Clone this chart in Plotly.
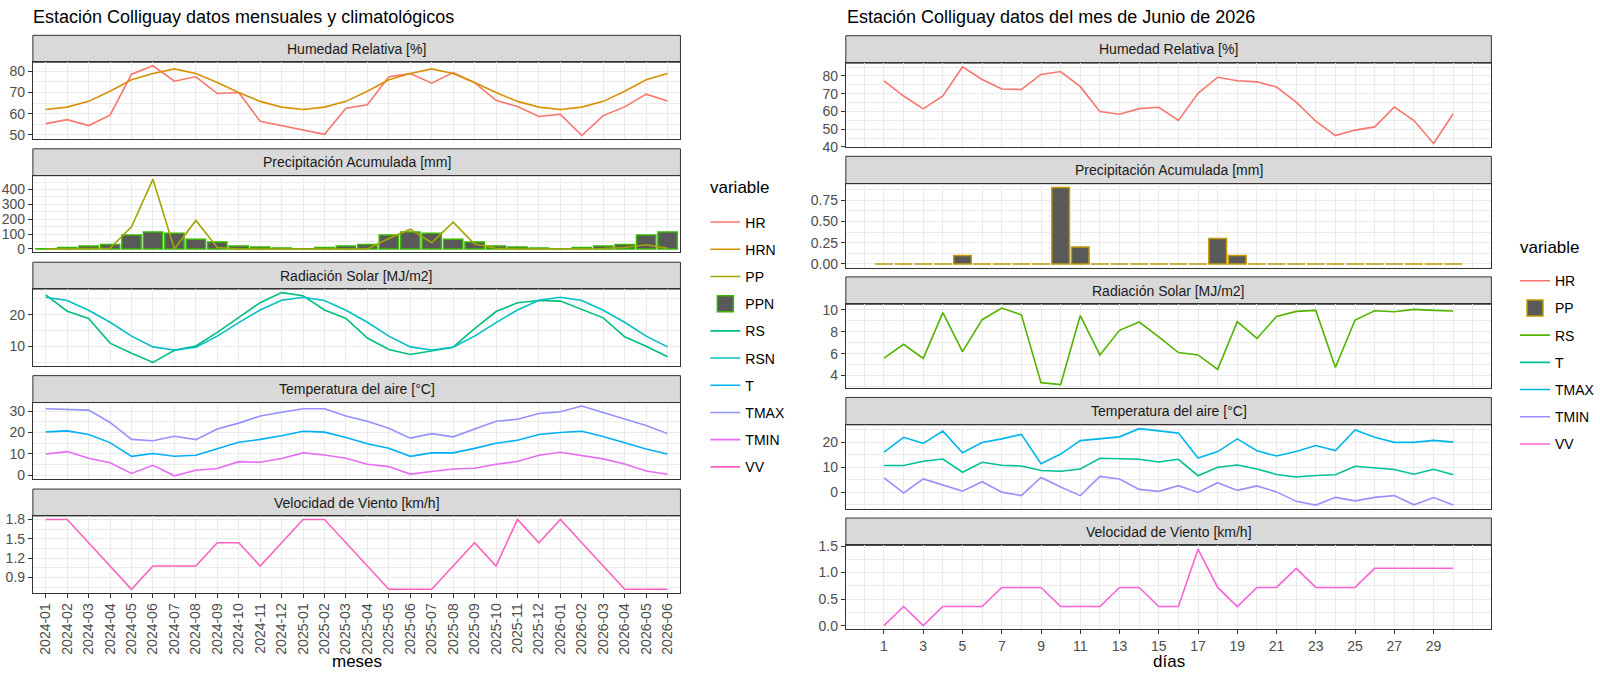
import plotly.graph_objects as go

W, H = 1600, 676

# ---- datos mensuales (panel izquierdo) ----
meses = ['2024-01', '2024-02', '2024-03', '2024-04', '2024-05', '2024-06', '2024-07', '2024-08',
         '2024-09', '2024-10', '2024-11', '2024-12', '2025-01', '2025-02', '2025-03', '2025-04',
         '2025-05', '2025-06', '2025-07', '2025-08', '2025-09', '2025-10', '2025-11', '2025-12',
         '2026-01', '2026-02', '2026-03', '2026-04', '2026-05', '2026-06']
hr_mensual = [55.3, 57.2, 54.4, 59.3, 78.6, 82.6, 75.3, 77.4, 69.5, 70.0, 56.4, 54.3, 52.3, 50.3, 62.6,
              64.2, 77.4, 78.9, 74.4, 79.4, 74.6, 66.3, 63.4, 58.7, 59.7, 49.7, 59.1, 63.2, 69.2, 66.0]
hrn_mensual = [62.0, 63.1, 65.8, 70.6, 76.0, 78.9, 81.1, 78.9, 74.7, 70.0, 65.8, 63.1, 62.0, 63.1, 65.8,
               70.6, 76.0, 78.9, 81.1, 78.9, 74.7, 70.0, 65.8, 63.1, 62.0, 63.1, 65.8, 70.6, 76.0, 78.9]
pp_mensual = [0, 0, 0, 5, 149, 470, 0, 192, 10, 0, 0, 0, 0, 0, 5,
              0, 70, 133, 42, 181, 33, 5, 0, 0, 0, 0, 3, 10, 28, 4]
ppn_mensual = [2, 9, 20, 30, 94, 114, 105, 66, 46, 20, 13, 7, 2, 9, 20,
               30, 94, 114, 105, 66, 46, 20, 13, 7, 2, 9, 20, 30, 94, 114]
rs_mensual = [26.3, 21.1, 18.8, 11.0, 7.8, 4.9, 8.7, 10.1, 14.4, 19.0, 23.8, 27.0, 26.0, 21.5, 18.8,
              12.6, 9.0, 7.4, 8.5, 9.7, 15.6, 21.0, 23.8, 24.5, 24.3, 21.7, 19.0, 13.0, 10.0, 6.7]
rsn_mensual = [25.5, 24.5, 21.4, 17.6, 13.2, 9.8, 8.8, 9.7, 13.2, 17.5, 21.5, 24.6, 25.5, 24.5, 21.4,
               17.6, 13.2, 9.8, 8.8, 9.7, 13.2, 17.5, 21.5, 24.6, 25.5, 24.5, 21.4, 17.6, 13.2, 9.8]
t_mensual = [20.3, 20.8, 19.1, 15.3, 8.9, 10.2, 8.9, 9.4, 12.4, 15.5, 16.8, 18.5, 20.6, 20.2, 17.7,
             14.8, 12.7, 8.9, 10.5, 10.5, 12.6, 15.0, 16.4, 19.1, 20.0, 20.6, 18.2, 15.3, 12.3, 10.0]
tmax_mensual = [31.1, 30.9, 30.5, 24.7, 16.8, 16.2, 18.3, 16.7, 21.7, 24.4, 27.7, 29.5, 31.1, 31.1, 27.7,
                25.3, 22.0, 17.4, 19.5, 18.0, 21.5, 25.3, 26.2, 28.9, 29.7, 32.4, 29.4, 26.4, 23.3, 19.5]
tmin_mensual = [10.0, 11.1, 8.0, 5.9, 0.9, 4.7, -0.2, 2.4, 3.2, 6.4, 6.1, 7.9, 10.5, 9.5, 8.0,
                5.2, 4.1, 0.6, 1.8, 3.0, 3.3, 5.2, 6.5, 9.4, 10.8, 9.2, 7.7, 5.3, 2.0, 0.5]
vv_mensual = [1.80, 1.80, 1.44, 1.08, 0.72, 1.08, 1.08, 1.08, 1.44, 1.44, 1.08, 1.44, 1.80, 1.80, 1.44,
              1.08, 0.72, 0.72, 0.72, 1.08, 1.44, 1.08, 1.80, 1.44, 1.80, 1.44, 1.08, 0.72, 0.72, 0.72]

# ---- datos diarios junio 2026 (panel derecho) ----
dias = list(range(1, 31))
dias_ticks = [1, 3, 5, 7, 9, 11, 13, 15, 17, 19, 21, 23, 25, 27, 29]
hr_diario = [77.3, 68.7, 61.5, 68.7, 85.1, 78.0, 72.7, 72.4, 80.9, 82.5, 74.0, 60.0, 58.4, 61.6, 62.4,
             54.9, 70.2, 79.3, 77.3, 76.7, 73.8, 65.3, 54.5, 46.4, 49.5, 51.3, 62.5, 54.9, 42.0, 58.7]
pp_diario = [0, 0, 0, 0, 0.1, 0, 0, 0, 0, 0.9, 0.2, 0, 0, 0, 0,
             0, 0, 0.3, 0.1, 0, 0, 0, 0, 0, 0, 0, 0, 0, 0, 0]
rs_diario = [5.59, 6.85, 5.56, 9.74, 6.18, 9.09, 10.15, 9.53, 3.35, 3.18, 9.47, 5.88, 8.12, 8.88, 7.53,
             6.09, 5.88, 4.56, 8.91, 7.38, 9.38, 9.85, 9.94, 4.74, 9.06, 9.91, 9.82, 10.03, 9.94, 9.88]
t_diario = [10.7, 10.7, 12.4, 13.3, 8.0, 12.0, 10.8, 10.5, 8.7, 8.4, 9.3, 13.6, 13.4, 13.2, 12.1,
            13.2, 6.6, 10.0, 10.9, 9.3, 7.1, 6.1, 6.7, 7.0, 10.4, 9.7, 9.1, 7.2, 9.2, 7.0]
tmax_diario = [16.1, 22.0, 19.6, 24.5, 15.8, 19.9, 21.4, 23.2, 11.4, 15.3, 20.7, 21.3, 22.2, 25.5, 24.5,
               23.7, 13.7, 16.3, 21.4, 16.6, 14.5, 16.3, 18.7, 16.7, 25.0, 22.0, 20.0, 20.0, 20.8, 20.1]
tmin_diario = [5.7, -0.3, 5.3, 2.8, 0.4, 4.2, 0.0, -1.4, 5.9, 2.1, -1.4, 6.3, 5.3, 1.1, 0.3,
               2.6, -0.1, 3.8, 0.7, 2.5, 0.1, -3.7, -5.2, -2.1, -3.5, -2.1, -1.4, -5.1, -2.2, -5.2]
vv_diario = [0, 0.36, 0, 0.36, 0.36, 0.36, 0.72, 0.72, 0.72, 0.36, 0.36, 0.36, 0.72, 0.72, 0.36,
             0.36, 1.44, 0.72, 0.36, 0.72, 0.72, 1.08, 0.72, 0.72, 0.72, 1.08, 1.08, 1.08, 1.08, 1.08]

facetas = ['Humedad Relativa [%]', 'Precipitación Acumulada [mm]', 'Radiación Solar [MJ/m2]',
           'Temperatura del aire [°C]', 'Velocidad de Viento [km/h]']

FONT = 'Liberation Sans'
GRID = '#EBEBEB'
BORDE = '#333333'


def sfx(n):
    return '' if n == 1 else str(n)


def expand(*series, mult=0.05):
    vals = [v for s in series for v in s]
    lo, hi = min(vals), max(vals)
    d = (hi - lo) * mult
    return [lo - d, hi + d]


fig = go.Figure()


def linea(x, y, nombre, color, n, leyenda, rank):
    fig.add_trace(go.Scatter(x=x, y=y, name=nombre, mode='lines',
                             line=dict(color=color, width=1.6),
                             xaxis='x' + sfx(n), yaxis='y' + sfx(n),
                             legend=leyenda, legendgroup=leyenda + nombre, legendrank=rank))


def barras(x, y, nombre, borde, n, leyenda, rank):
    fig.add_trace(go.Bar(x=x, y=y, name=nombre, width=0.9, showlegend=False,
                         marker=dict(color='#595959', line=dict(color=borde, width=1.5)),
                         xaxis='x' + sfx(n), yaxis='y' + sfx(n),
                         legend=leyenda, legendgroup=leyenda + nombre))
    # clave de leyenda cuadrada y grande, como en ggplot
    fig.add_trace(go.Scatter(x=[None], y=[None], name=nombre, mode='markers',
                             marker=dict(symbol='square', size=16, color='#595959',
                                         line=dict(color=borde, width=1.5)),
                             xaxis='x' + sfx(n), yaxis='y' + sfx(n),
                             legend=leyenda, legendgroup=leyenda + nombre, legendrank=rank))


# izquierda
linea(meses, hr_mensual, 'HR', '#F8766D', 1, 'legend', 1)
linea(meses, hrn_mensual, 'HRN', '#D89000', 1, 'legend', 2)
barras(meses, ppn_mensual, 'PPN', '#39B600', 2, 'legend', 4)
linea(meses, pp_mensual, 'PP', '#A3A500', 2, 'legend', 3)
linea(meses, rs_mensual, 'RS', '#00BF7D', 3, 'legend', 5)
linea(meses, rsn_mensual, 'RSN', '#00BFC4', 3, 'legend', 6)
linea(meses, t_mensual, 'T', '#00B0F6', 4, 'legend', 7)
linea(meses, tmax_mensual, 'TMAX', '#9590FF', 4, 'legend', 8)
linea(meses, tmin_mensual, 'TMIN', '#E76BF3', 4, 'legend', 9)
linea(meses, vv_mensual, 'VV', '#FF62BC', 5, 'legend', 10)

# derecha
linea(dias, hr_diario, 'HR', '#F8766D', 6, 'legend2', 1)
barras(dias, pp_diario, 'PP', '#C49A00', 7, 'legend2', 2)
linea(dias, rs_diario, 'RS', '#53B400', 8, 'legend2', 3)
linea(dias, t_diario, 'T', '#00C094', 9, 'legend2', 4)
linea(dias, tmax_diario, 'TMAX', '#00B6EB', 9, 'legend2', 5)
linea(dias, tmin_diario, 'TMIN', '#A58AFF', 9, 'legend2', 6)
linea(dias, vv_diario, 'VV', '#FB61D7', 10, 'legend2', 7)

# geometria de los paneles (px)
izq = dict(x0=33, x1=683, tops=[29, 145, 261, 377, 493], strip=27.5, alto=78.5)
der = dict(x0=849, x1=1497, tops=[29.4, 152.7, 276, 399.3, 522.6], strip=28, alto=86)

rangos_izq = [expand(hr_mensual, hrn_mensual), expand(pp_mensual, ppn_mensual, [0]),
              expand(rs_mensual, rsn_mensual), expand(t_mensual, tmax_mensual, tmin_mensual),
              expand(vv_mensual)]
rangos_der = [expand(hr_diario), expand(pp_diario), expand(rs_diario),
              expand(t_diario, tmax_diario, tmin_diario), expand(vv_diario)]
dticks_izq = [(10, None), (100, None), (10, None), (10, None), (0.3, '.1f')]
dticks_der = [(10, None), (0.25, '.2f'), (2, None), (10, None), (0.5, '.1f')]

tick_font = dict(family=FONT, size=14, color='#4D4D4D')
shapes, annotations = [], []
layout = {}

for lado, geo, rangos, dticks in [('izq', izq, rangos_izq, dticks_izq), ('der', der, rangos_der, dticks_der)]:
    for i in range(5):
        n = i + 1 if lado == 'izq' else i + 6
        s = sfx(n)
        top = geo['tops'][i]
        p_top = top + geo['strip']
        p_bot = p_top + geo['alto']
        ultimo = i == 4
        xa = dict(domain=[geo['x0'] / W, geo['x1'] / W], anchor='y' + s,
                  showline=True, mirror=True, linecolor=BORDE, linewidth=1,
                  showgrid=True, gridcolor=GRID, gridwidth=1.1, zeroline=False,
                  ticks='outside' if ultimo else '', ticklen=4, tickcolor=BORDE,
                  showticklabels=ultimo, tickfont=tick_font)
        if lado == 'izq':
            xa.update(type='category', categoryorder='array', categoryarray=meses,
                      tickmode='array', tickvals=meses, range=[-0.6, 29.6], tickangle=-90)
        else:
            xa.update(range=[-0.945, 31.945], tickmode='array', tickvals=dias_ticks,
                      minor=dict(tick0=0, dtick=1, showgrid=True, gridcolor=GRID, gridwidth=0.6))
        dt, fmt = dticks[i]
        ya = dict(domain=[1 - p_bot / H, 1 - p_top / H], anchor='x' + s, range=rangos[i],
                  showline=True, mirror=True, linecolor=BORDE, linewidth=1,
                  showgrid=True, gridcolor=GRID, gridwidth=1.1, zeroline=False,
                  ticks='outside', ticklen=4, tickcolor=BORDE, tickfont=tick_font,
                  tick0=0, dtick=dt,
                  minor=dict(tick0=0, dtick=dt / 2, showgrid=True, gridcolor=GRID, gridwidth=0.6))
        if fmt:
            ya['tickformat'] = fmt
        layout['xaxis' + s] = xa
        layout['yaxis' + s] = ya
        shapes.append(dict(type='rect', xref='paper', yref='paper',
                           x0=geo['x0'] / W, x1=geo['x1'] / W,
                           y0=1 - p_top / H, y1=1 - top / H,
                           fillcolor='#D9D9D9', line=dict(color=BORDE, width=1), layer='below'))
        annotations.append(dict(text=facetas[i], xref='paper', yref='paper', showarrow=False,
                                x=(geo['x0'] + geo['x1']) / 2 / W, y=1 - (top + geo['strip'] / 2) / H,
                                xanchor='center', yanchor='middle',
                                font=dict(family=FONT, size=14, color='#1A1A1A')))


def texto(t, x, y, size, xanchor='left'):
    return dict(text=t, xref='paper', yref='paper', x=x / W, y=1 - y / H, xanchor=xanchor,
                yanchor='middle', showarrow=False, font=dict(family=FONT, size=size, color='black'))


annotations += [
    texto('Estación Colliguay datos mensuales y climatológicos', 31, 10, 18),
    texto('Estación Colliguay datos del mes de Junio de 2026', 848, 10, 18),
    texto('meses', (izq['x0'] + izq['x1']) / 2, 669, 17, 'center'),
    texto('días', (der['x0'] + der['x1']) / 2, 669, 17, 'center'),
    texto('variable', 711, 185, 17),
    texto('variable', 1524, 246, 17),
]

leyenda = dict(xanchor='left', yanchor='top', bgcolor='rgba(0,0,0,0)', itemwidth=30,
               tracegroupgap=6, font=dict(family=FONT, size=14, color='black'))

fig.update_layout(
    width=W, height=H, autosize=False,
    margin=dict(l=0, r=0, t=0, b=0),
    paper_bgcolor='white', plot_bgcolor='white',
    font=dict(family=FONT),
    showlegend=True,
    legend=dict(leyenda, x=708 / W, y=1 - 204 / H),
    legend2=dict(leyenda, x=1521 / W, y=1 - 264 / H),
    shapes=shapes, annotations=annotations,
    **layout,
)

fig.write_html('out.html', config={'displayModeBar': False},
               post_script="document.body.style.margin='0';")
